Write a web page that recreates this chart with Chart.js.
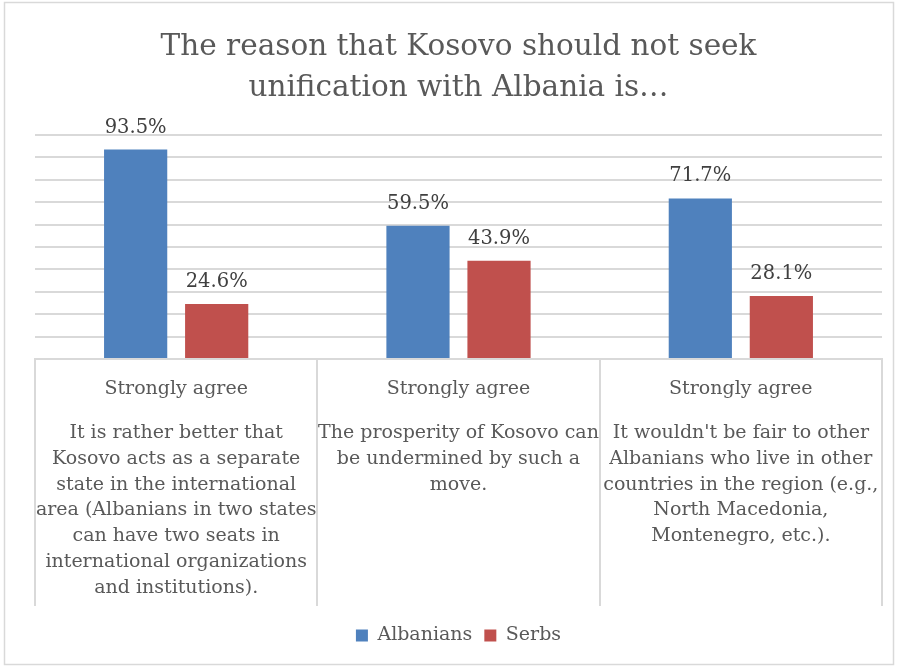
<!DOCTYPE html>
<html>
<head>
<meta charset="utf-8">
<script src="https://cdn.jsdelivr.net/npm/chart.js@4.4.1/dist/chart.umd.min.js"></script>
<style>
  html, body { margin: 0; padding: 0; background: #fff; }
  #wrap { width: 898px; height: 668px; }
</style>
</head>
<body>
<div id="wrap"><canvas id="reasonChart" width="898" height="668"></canvas></div>
<script>
const titleLines = ['The reason that Kosovo should not seek', 'unification with Albania is…'];
const categories = ['Strongly agree', 'Strongly agree', 'Strongly agree'];
const statements = [
    ['It is rather better that', 'Kosovo acts as a separate', 'state in the international',
     'area (Albanians in two states', 'can have two seats in', 'international organizations',
     'and institutions).'],
    ['The prosperity of Kosovo can', 'be undermined by such a', 'move.'],
    ['It wouldn\'t be fair to other', 'Albanians who live in other', 'countries in the region (e.g.,',
     'North Macedonia,', 'Montenegro, etc.).']
];
const seriesNames = ['Albanians', 'Serbs'];
const albanians = [93.5, 59.5, 71.7];
const serbs = [24.6, 43.9, 28.1];

const serif = '"DejaVu Serif", serif';
const grey = '#d9d9d9';

// white page with a thin grey frame around the whole chart
const framePlugin = {
    id: 'frame',
    beforeDraw(chart) {
        const ctx = chart.ctx;
        ctx.save();
        ctx.fillStyle = '#fff';
        ctx.fillRect(0, 0, chart.width, chart.height);
        ctx.strokeStyle = grey;
        ctx.lineWidth = 1.5;
        ctx.strokeRect(4.5, 2.5, chart.width - 9, chart.height - 6);
        ctx.restore();
    }
};

// percentage above each bar
const valueLabels = {
    id: 'valueLabels',
    afterDatasetsDraw(chart) {
        const ctx = chart.ctx;
        ctx.save();
        ctx.font = '19.5px ' + serif;
        ctx.fillStyle = '#404040';
        ctx.textAlign = 'center';
        ctx.textBaseline = 'middle';
        chart.data.datasets.forEach((ds, d) => {
            chart.getDatasetMeta(d).data.forEach((bar, i) => {
                ctx.fillText(ds.data[i].toFixed(1) + '%', bar.x, bar.y - 22);
            });
        });
        ctx.restore();
    }
};

// category name plus the wrapped statement under each group
const categoryText = {
    id: 'categoryText',
    afterDraw(chart) {
        const x = chart.scales.x;
        const ctx = chart.ctx;
        ctx.save();
        ctx.font = '19px ' + serif;
        ctx.fillStyle = '#595959';
        ctx.textAlign = 'center';
        ctx.textBaseline = 'middle';
        categories.forEach((cat, i) => {
            const cx = x.getPixelForValue(i);
            ctx.fillText(cat, cx, x.top + 30);
            statements[i].forEach((line, k) => {
                ctx.fillText(line, cx, x.top + 74 + k * 25.8);
            });
        });
        ctx.restore();
    }
};

new Chart(document.getElementById('reasonChart').getContext('2d'), {
    type: 'bar',
    data: {
        labels: categories,
        datasets: [
            { label: seriesNames[0], data: albanians, backgroundColor: '#4f81bd' },
            { label: seriesNames[1], data: serbs, backgroundColor: '#c0504d' }
        ]
    },
    options: {
        responsive: false,
        animation: false,
        categoryPercentage: 0.574,
        barPercentage: 0.78,
        layout: {
            padding: { left: 35, right: 16, top: 0, bottom: 13 }
        },
        plugins: {
            title: {
                display: true,
                text: titleLines,
                color: '#595959',
                font: { family: serif, size: 29.5, weight: 'normal', lineHeight: 1.39 },
                padding: { top: 27, bottom: 26 }
            },
            legend: {
                position: 'bottom',
                labels: {
                    boxWidth: 12,
                    boxHeight: 12,
                    color: '#595959',
                    padding: 12,
                    font: { family: serif, size: 19 }
                }
            },
            tooltip: { enabled: false }
        },
        scales: {
            x: {
                ticks: { display: false },
                grid: {
                    drawOnChartArea: false,
                    drawTicks: true,
                    tickLength: 247,
                    color: grey,
                    lineWidth: 2
                },
                border: { display: true, color: grey, width: 2 },
                afterFit(scale) { scale.height = 255; }
            },
            y: {
                min: 0,
                max: 100,
                ticks: { display: false, stepSize: 10 },
                grid: { color: grey, lineWidth: 2, drawTicks: false },
                border: { display: false }
            }
        }
    },
    plugins: [framePlugin, valueLabels, categoryText]
});
</script>
</body>
</html>
